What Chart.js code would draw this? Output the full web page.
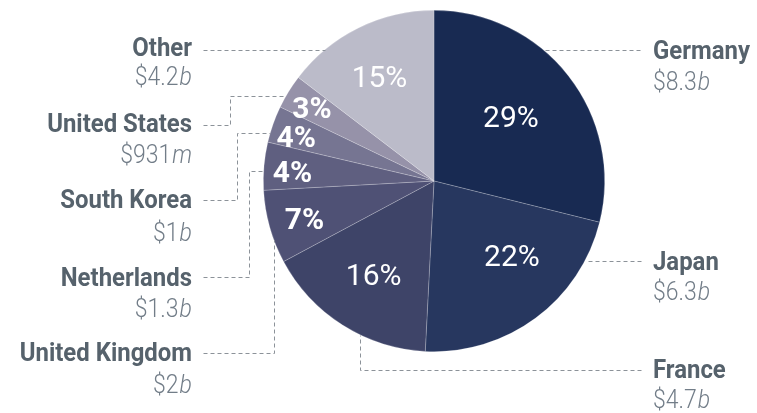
<!DOCTYPE html>
<html>
<head>
<meta charset="utf-8">
<script src="https://cdn.jsdelivr.net/npm/chart.js@4.4.1/dist/chart.umd.min.js"></script>
<style>
  html, body { margin: 0; padding: 0; background: #ffffff; }
  canvas { display: block; }
</style>
</head>
<body>
<canvas id="exportsPie" width="757" height="413"></canvas>
<script>
// données (milliards de dollars), dans le sens horaire depuis le haut
const countries = ['Germany', 'Japan', 'France', 'United Kingdom', 'Netherlands', 'South Korea', 'United States', 'Other'];
const values = [8.3, 6.3, 4.7, 2, 1.3, 1, 0.931, 4.2];
const amountText = ['$8.3', '$6.3', '$4.7', '$2', '$1.3', '$1', '$931', '$4.2'];
const amountUnit = ['b', 'b', 'b', 'b', 'b', 'b', 'm', 'b'];
const shareLabels = ['29%', '22%', '16%', '7%', '4%', '4%', '3%', '15%'];

const sliceColors = ['#182a52', '#27375f', '#3e4468', '#4f5175', '#5f5f80', '#767592', '#9692a9', '#bbbbc9'];

// placement des pourcentages (fraction du rayon, décalage en degrés)
const shareRadius = [0.58, 0.64, 0.66, 0.795, 0.83, 0.845, 0.83, 0.68];
const shareShift = [-1, -9, 0, -1.5, -2, -2.4, -1, -1.7];
const shareBold = [false, false, false, true, true, true, true, false];

// étiquettes et lignes de rappel
const callouts = [
    { side: 'right', x: 653, nameY: 59, valY: 90, path: [[640, 50]], edge: { y: 50 } },
    { side: 'right', x: 653, nameY: 270, valY: 300, path: [[641, 261]], edge: { y: 261 } },
    { side: 'right', x: 653, nameY: 378, valY: 408, path: [[641, 370], [360, 370]], edge: { x: 360 } },
    { side: 'left', x: 192, nameY: 361, valY: 393, path: [[203, 353], [274, 353]], edge: { x: 274 } },
    { side: 'left', x: 192, nameY: 286, valY: 317, path: [[203, 277], [249, 277]], edge: { y: 171 } },
    { side: 'left', x: 192, nameY: 208, valY: 241, path: [[203, 200], [237, 200]], edge: { y: 133 } },
    { side: 'left', x: 192, nameY: 132, valY: 163, path: [[203, 125], [230, 125]], edge: { y: 96 } },
    { side: 'left', x: 192, nameY: 56, valY: 85, path: [[203, 50]], edge: { y: 50 } },
];

const nameColor = '#56626c';
const valueColor = '#727d88';
const leaderColor = '#8c9299';
const nameFont = '700 26px Roboto';
const amountFont = '300 25px Roboto';
const unitFont = 'italic 300 25px Roboto';
const squeeze = 0.92;

function drawSqueezed(ctx, text, x, y) {
    ctx.save();
    ctx.translate(x, y);
    ctx.scale(squeeze, 1);
    ctx.fillText(text, 0, 0);
    ctx.restore();
}

const calloutPlugin = {
    id: 'callouts',
    afterDatasetsDraw(chart) {
        const ctx = chart.ctx;
        const arcs = chart.getDatasetMeta(0).data;
        const cx = arcs[0].x, cy = arcs[0].y, r = arcs[0].outerRadius;

        // pourcentages dans les parts
        ctx.save();
        ctx.fillStyle = '#ffffff';
        ctx.textAlign = 'center';
        ctx.textBaseline = 'middle';
        arcs.forEach((arc, i) => {
            const mid = (arc.startAngle + arc.endAngle) / 2 + shareShift[i] * Math.PI / 180;
            const rr = r * shareRadius[i];
            ctx.font = (shareBold[i] ? '700' : '400') + ' 30px Roboto';
            ctx.fillText(shareLabels[i], cx + rr * Math.cos(mid), cy + rr * Math.sin(mid) + 1);
        });
        ctx.restore();

        // lignes de rappel pointillées
        ctx.save();
        ctx.strokeStyle = leaderColor;
        ctx.lineWidth = 1;
        ctx.setLineDash([4, 3]);
        callouts.forEach(c => {
            let ex, ey;
            if (c.edge.y !== undefined) {
                ey = c.edge.y;
                const d = Math.sqrt(Math.max(r * r - (ey - cy) * (ey - cy), 0));
                ex = c.side === 'right' ? cx + d : cx - d;
            } else {
                ex = c.edge.x;
                ey = cy + Math.sqrt(Math.max(r * r - (ex - cx) * (ex - cx), 0));
            }
            const pts = c.path.concat([[ex, ey]]);
            // coude vertical vers le bord quand la ligne change de hauteur
            if (c.edge.y !== undefined && pts.length > 2) {
                const last = pts[pts.length - 2];
                pts.splice(pts.length - 1, 0, [last[0], ey]);
            }
            ctx.beginPath();
            ctx.moveTo(pts[0][0] + 0.5, Math.round(pts[0][1]) + 0.5);
            for (let k = 1; k < pts.length; k++) {
                ctx.lineTo(Math.round(pts[k][0]) + 0.5, Math.round(pts[k][1]) + 0.5);
            }
            ctx.stroke();
        });
        ctx.restore();

        // noms et montants
        ctx.save();
        ctx.textBaseline = 'alphabetic';
        ctx.textAlign = 'left';
        callouts.forEach((c, i) => {
            ctx.font = nameFont;
            const nameW = ctx.measureText(countries[i]).width * squeeze;
            ctx.font = amountFont;
            const amtW = ctx.measureText(amountText[i]).width * squeeze;
            ctx.font = unitFont;
            const unitW = ctx.measureText(amountUnit[i]).width * squeeze;

            const nameX = c.side === 'right' ? c.x : c.x - nameW;
            const valX = c.side === 'right' ? c.x : c.x - amtW - unitW - 1;

            ctx.fillStyle = nameColor;
            ctx.font = nameFont;
            drawSqueezed(ctx, countries[i], nameX, c.nameY);

            ctx.fillStyle = valueColor;
            ctx.font = amountFont;
            drawSqueezed(ctx, amountText[i], valX, c.valY);
            ctx.font = unitFont;
            drawSqueezed(ctx, amountUnit[i], valX + amtW + 1, c.valY);
        });
        ctx.restore();
    }
};

new Chart(document.getElementById('exportsPie').getContext('2d'), {
    type: 'pie',
    data: {
        labels: countries,
        datasets: [{
            data: values,
            backgroundColor: sliceColors,
            borderColor: 'rgba(255, 255, 255, 0.3)',
            borderWidth: 0.7,
        }]
    },
    options: {
        responsive: false,
        animation: false,
        layout: { padding: { top: 10, bottom: 61, left: 263, right: 152 } },
        plugins: {
            legend: { display: false },
            tooltip: { enabled: false }
        }
    },
    plugins: [calloutPlugin]
});
</script>
</body>
</html>
